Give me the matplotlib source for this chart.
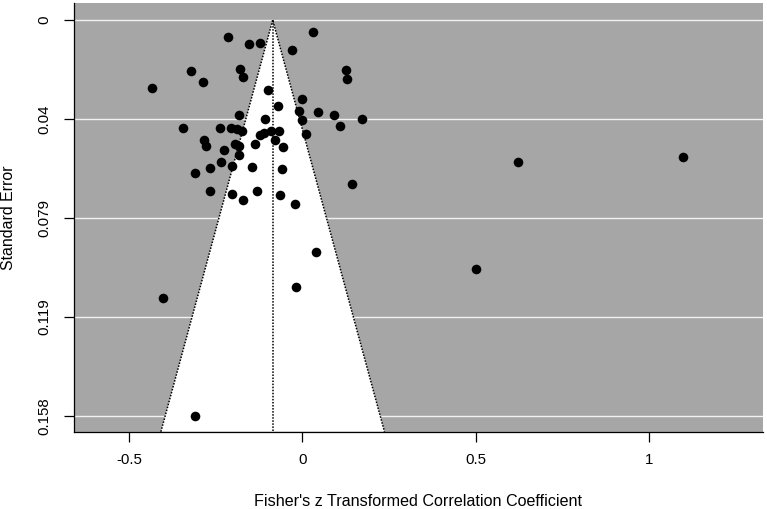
import matplotlib
matplotlib.use("Agg")
import matplotlib.pyplot as plt
import numpy as np

plt.rcParams['font.family'] = ['Liberation Sans', 'DejaVu Sans']

# Effect sizes (Fisher's z) and standard errors
z_values = [-0.2133, 0.0300, -0.1536, -0.1211, -0.0297, -0.3217, -0.1796, -0.1709,
            -0.2871, -0.4324, 0.1251, 0.1289, -0.0997, 0.0000, -0.0700, -0.0104,
            0.0461, 0.0905, 0.1712, 0.1078, -0.1816, -0.1075, 0.0000, -0.3430,
            -0.2381, -0.2055, -0.1874, -0.1730, -0.1211, -0.1104, -0.0911, -0.0663,
            0.0107, -0.0796, -0.0556, -0.2834, -0.2776, -0.1931, -0.1816, -0.1355,
            -0.2248, -0.1816, -0.2344, -0.2027, -0.1441, -0.0594, -0.2652, -0.3084,
            0.1433, -0.2661, -0.2018, -0.1314, -0.0643, -0.1709, -0.0202, 0.0404,
            -0.4007, -0.0190, -0.3102, 0.6209, 1.0983, 0.5007]
se_values = [0.00691, 0.00479, 0.00970, 0.00930, 0.01198, 0.02036, 0.01944, 0.02264,
             0.02475, 0.02703, 0.01984, 0.02356, 0.02783, 0.03154, 0.03422, 0.03621,
             0.03662, 0.03805, 0.03941, 0.04232, 0.03793, 0.03965, 0.03993, 0.04312,
             0.04312, 0.04312, 0.04352, 0.04420, 0.04579, 0.04523, 0.04432, 0.04444,
             0.04563, 0.04779, 0.05058, 0.04803, 0.05031, 0.04951, 0.05019, 0.04939,
             0.05202, 0.05390, 0.05657, 0.05829, 0.05857, 0.05937, 0.05897, 0.06108,
             0.06560, 0.06815, 0.06947, 0.06839, 0.06999, 0.07206, 0.07358, 0.09275,
             0.11111, 0.10660, 0.15810, 0.05681, 0.05482, 0.09941]

pooled_estimate = -0.0853
max_se = 0.1581
x_ticks = [-0.5, 0, 0.5, 1]
x_tick_labels = ['-0.5', '0', '0.5', '1']
y_tick_labels = ['0', '0.04', '0.079', '0.119', '0.158']
y_ticks = list(np.linspace(0, max_se, len(y_tick_labels)))

fig = plt.figure(figsize=(7.67, 5.09), dpi=100)
ax = fig.add_axes([74/767, 1 - 431.7/509, (762.7 - 74)/767, (431.7 - 3)/509])

ylim_bottom = 0.1644
ylim_top = -0.0068
ax.set_xlim(-0.658, 1.327)
ax.set_ylim(ylim_bottom, ylim_top)

ax.set_facecolor('#A6A6A6')

# grid lines
for yt in y_ticks:
    ax.axhline(yt, color='#F2F2F2', lw=1.0, zorder=1)

# funnel
half = 1.96 * ylim_bottom
ax.fill([pooled_estimate - half, pooled_estimate, pooled_estimate + half],
        [ylim_bottom, 0, ylim_bottom], color='white', zorder=2, lw=0)
ax.plot([pooled_estimate - half, pooled_estimate, pooled_estimate + half],
        [ylim_bottom, 0, ylim_bottom], color='black', ls=(0, (1.0, 1.0)), lw=1.1, zorder=3)
ax.plot([pooled_estimate, pooled_estimate], [0, ylim_bottom],
        color='black', ls=(0, (1.0, 1.0)), lw=1.1, zorder=3)

# points
ax.scatter(z_values, se_values, s=48, color='black', zorder=4, linewidths=0)

for side in ['top', 'right']:
    ax.spines[side].set_visible(False)
for side in ['left', 'bottom']:
    ax.spines[side].set_linewidth(0.9)
    ax.spines[side].set_zorder(5)

ax.set_xticks(x_ticks)
ax.set_xticklabels(x_tick_labels)
ax.set_yticks(y_ticks)
ax.set_yticklabels(y_tick_labels, rotation=90, va='center')
ax.tick_params(axis='both', length=7.5, width=0.9, labelsize=10.8)
ax.tick_params(axis='x', pad=8)
ax.tick_params(axis='y', pad=9)

fig.text((74 + 762.7) / 2 / 767, 2.5 / 509, "Fisher's z Transformed Correlation Coefficient",
         ha='center', va='baseline', fontsize=11.6)
fig.text(1 / 767, 1 - 218 / 509, 'Standard Error', rotation=90,
         ha='left', va='center', fontsize=11.4)

fig.savefig('out.png', dpi=100)
